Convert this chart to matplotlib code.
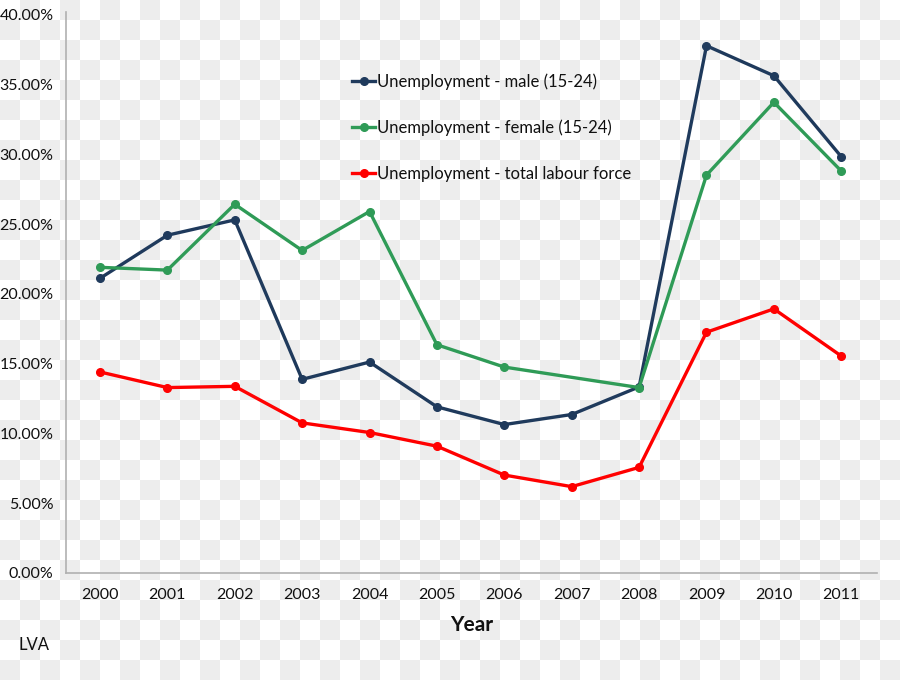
import numpy as np
import matplotlib
matplotlib.use("Agg")
import matplotlib.pyplot as plt
from matplotlib.ticker import FuncFormatter

plt.rcParams['font.family'] = ['Lato', 'DejaVu Sans']

years = ["2000", "2001", "2002", "2003", "2004", "2005", "2006", "2007", "2008", "2009", "2010", "2011"]
male = [21.12, 24.21, 25.31, 13.88, 15.12, 11.91, 10.64, 11.36, 13.34, 37.79, 35.64, 29.84]
female = [21.91, 21.71, 26.43, 23.12, 25.91, 16.36, 14.76, None, 13.29, 28.52, 33.74, 28.81]
total = [14.41, 13.29, 13.38, 10.76, 10.07, 9.09, 7.02, 6.19, 7.57, 17.26, 18.93, 15.55]
labels = ["Unemployment - male (15-24)", "Unemployment - female (15-24)",
          "Unemployment - total labour force"]
colors = ["#1f3a5c", "#2f9b57", "#ff0000"]
yticks = [0, 5, 10, 15, 20, 25, 30, 35, 40]

W, H = 900, 680
fig = plt.figure(figsize=(W / 100, H / 100), dpi=100)

# checkerboard background (transparency pattern)
bg = fig.add_axes([0, 0, 1, 1], zorder=-10)
rows, cols = H // 20, W // 20
r, c = np.indices((rows, cols))
board = ((r + c) % 2).astype(float)
bg.imshow(board, cmap=matplotlib.colors.ListedColormap(["#ffffff", "#ededed"]),
          extent=[0, W, H, 0], interpolation="nearest", aspect="auto")
bg.set_xlim(0, W)
bg.set_ylim(H, 0)
bg.axis("off")

ax = fig.add_axes([66 / W, 1 - 573 / H, (877 - 66) / W, (573 - 12) / H])
ax.patch.set_alpha(0)

x = np.arange(len(years))
for vals, lab, col in zip([male, female, total], labels, colors):
    xs = [xi for xi, v in zip(x, vals) if v is not None]
    vs = [v for v in vals if v is not None]
    ax.plot(xs, vs, color=col, lw=2.4, marker="o", ms=5.5, label=lab,
            solid_joinstyle="round", clip_on=False)

ax.set_xlim(-0.504, 11.53)
ax.set_ylim(0.14, 40.21)
ax.set_xticks(x)
ax.set_xticklabels(years)
ax.set_yticks(yticks)
ax.yaxis.set_major_formatter(FuncFormatter(lambda v, p: f"{v:.2f}%"))
ax.tick_params(axis="both", length=0, labelsize=11.5, colors="#111111")
ax.tick_params(axis="x", pad=11)
ax.tick_params(axis="y", pad=9)
for s in ["top", "right"]:
    ax.spines[s].set_visible(False)
for s in ["left", "bottom"]:
    ax.spines[s].set_color("#b0b0b0")
    ax.spines[s].set_linewidth(1.2)

ax.set_xlabel("Year", fontsize=15, fontweight="bold", labelpad=9, color="#111111")

leg = fig.legend(loc="upper left", bbox_to_anchor=(352 / W, 1 - 73 / H),
                 frameon=False, fontsize=12, handlelength=1.4, handletextpad=0.1,
                 labelspacing=1.8, borderpad=0, borderaxespad=0)
for t in leg.get_texts():
    t.set_color("#111111")

fig.text(18 / W, 1 - 645 / H, "LVA", fontsize=12, va="center", ha="left", color="#111111")

fig.savefig("out.png", dpi=100)
